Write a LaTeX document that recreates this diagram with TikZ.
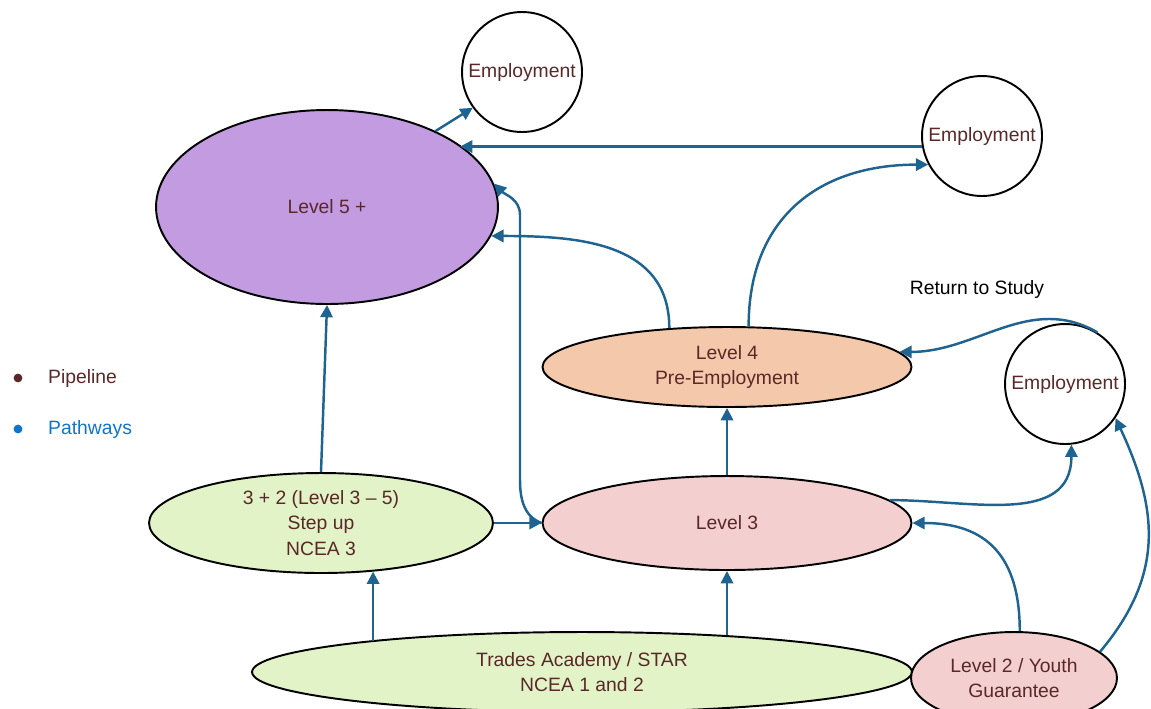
\documentclass[tikz,border=0pt]{standalone}
\usepackage{fontspec}
\setmainfont{Liberation Sans}
\usepackage{tikz}
\usetikzlibrary{arrows.meta}
\usetikzlibrary{shapes.geometric}
\definecolor{pathblue}{RGB}{31, 100, 145}
\definecolor{txtbrown}{RGB}{90, 40, 40}
\definecolor{legblue}{RGB}{16, 117, 200}
\definecolor{lvfive}{RGB}{195, 155, 224}
\definecolor{lvfour}{RGB}{244, 200, 170}
\definecolor{lvthree}{RGB}{244, 207, 208}
\definecolor{lvgreen}{RGB}{226, 243, 200}

\begin{document}
\begin{tikzpicture}[x=0.02cm,y=-0.02cm,
  every node/.style={font=\fontsize{11}{14.5}\selectfont,text=txtbrown,align=center},
  oval/.style={ellipse,draw=black,line width=1.1pt,inner sep=0pt},
  job/.style={circle,draw=black,line width=1.1pt,fill=white,minimum size=2.4cm,inner sep=0pt},
  bullet/.style={circle,inner sep=0pt,minimum size=5pt},
  flow/.style={draw=pathblue,line width=1.4pt,-{Triangle[length=7pt,width=7pt]}}]
  \path[use as bounding box,clip] (0,0) rectangle (1151,708);

  \node[oval,fill=lvfive,minimum width=6.84cm,minimum height=3.88cm] (l5) at (327,207) {Level 5 +};
  \node[oval,fill=lvfour,minimum width=7.38cm,minimum height=1.6cm] (l4) at (727,367) {Level 4\\Pre-Employment};
  \node[oval,fill=lvthree,minimum width=7.38cm,minimum height=1.88cm] (l3) at (727,523) {Level 3};
  \node[oval,fill=lvgreen,minimum width=6.88cm,minimum height=2cm] (step) at (321,523) {3 + 2 (Level 3 -- 5)\\Step up\\NCEA 3};
  \node[oval,fill=lvgreen,minimum width=13.2cm,minimum height=1.6cm] (trades) at (582,672) {Trades Academy / STAR\\NCEA 1 and 2};
  \node[oval,fill=lvthree,minimum width=4.12cm,minimum height=1.84cm] (l2) at (1014,678) {Level 2 / Youth\\Guarantee};
  \node[job] (e1) at (522,72) {Employment};
  \node[job] (e2) at (982,136) {Employment};
  \node[job] (e3) at (1065,384) {Employment};

  \node[bullet,fill=txtbrown] (pipedot) at (18,378) {};
  \node[anchor=west] (pipe) at (42,378) {Pipeline};
  \node[bullet,fill=legblue] (pathdot) at (18,429) {};
  \node[anchor=west,text=legblue] (paths) at (42,429) {Pathways};
  \node[text=black] (ret) at (977,289) {Return to Study};

  \draw[flow] (l5.35) -- (e1.216);
  \draw[flow] (e2.190) -- (l5.25 |- e2.190);
  \draw[flow] (l3.west) to[out=160,in=-90] (520,480) -- (520,215) to[out=90,in=-45] (l5.8);
  \draw[flow] (l4.146) to[out=90,in=0,looseness=1.1] (l5.350);
  \draw[flow] (l4.62) to[out=90,in=180,looseness=1.15] (e2.208);
  \draw[flow] (l3.north) -- (l4.south);
  \draw[flow] (step.north) -- (l5.south);
  \draw[flow] (step.east) -- (l3.west);
  \draw[flow] (l3.8) to[out=0,in=-90,looseness=1.1] (e3.276);
  \draw[flow] (l2.83) to[out=90,in=0,looseness=1.25] (l3.east);
  \draw[flow] (l2.17) to[out=50,in=-65,looseness=1.1] (e3.326);
  \draw[flow] (e3.58) to[out=150,in=0] (l4.5);
  \draw[flow] (step.317 |- trades.172) -- (step.317);
  \draw[flow] (l3.south |- trades.14) -- (l3.south);
\end{tikzpicture}
\end{document}
